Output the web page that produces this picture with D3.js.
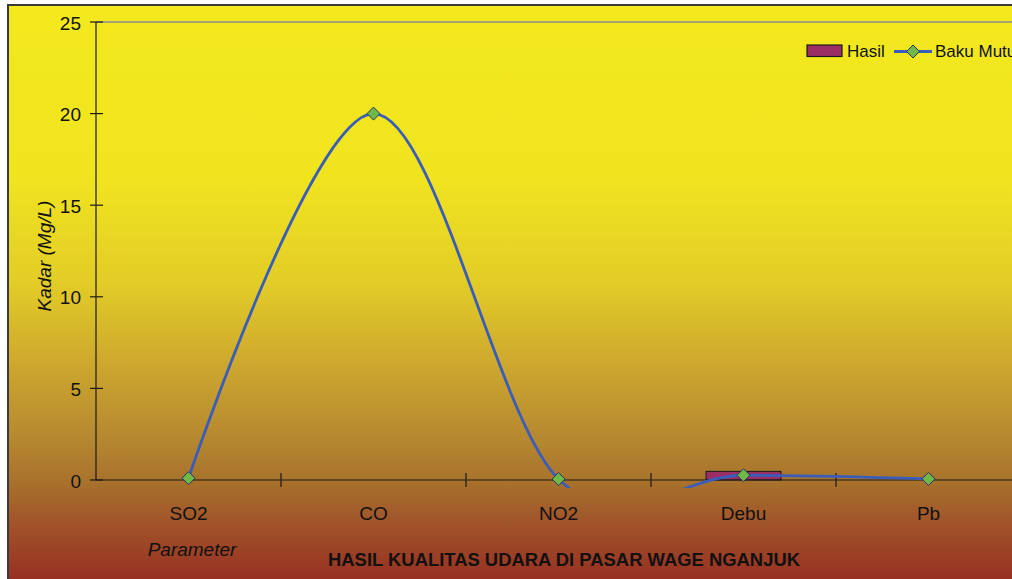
<!DOCTYPE html>
<html>
<head>
<meta charset="utf-8">
<script src="https://cdn.jsdelivr.net/npm/d3@7"></script>
<style>
  html, body { margin: 0; padding: 0; background: #ffffff; }
  svg { display: block; font-family: "Liberation Sans", Arial, sans-serif; }
</style>
</head>
<body>
<svg id="chart" width="1012" height="579"></svg>
<script>
// Parameters measured at the market
const categories = ["SO2", "CO", "NO2", "Debu", "Pb"];
// Measured concentrations (Hasil)
const hasilValues = [0, 0, 0, 0.47, 0];
// Quality standard (Baku Mutu)
const bakuMutuValues = [0.1, 20, 0.05, 0.26, 0.06];
// Y-axis ticks
const yTicks = [0, 5, 10, 15, 20, 25];

const seriesNames = ["Hasil", "Baku Mutu"];
const chartTitle = "HASIL KUALITAS UDARA DI PASAR WAGE NGANJUK";
const xTitle = "Parameter";
const yTitle = "Kadar (Mg/L)";

const svg = d3.select("#chart");

// Background gradient of the chart area
const defs = svg.append("defs");
const grad = defs.append("linearGradient")
  .attr("id", "bg").attr("gradientUnits", "userSpaceOnUse")
  .attr("x1", 0).attr("y1", 5).attr("x2", 0).attr("y2", 579);
[[0, "#f3e91d"], [0.30, "#f0e41f"], [0.48, "#e3cd27"], [0.62, "#cea92e"],
 [0.76, "#b58730"], [0.83, "#a8722c"], [0.90, "#a1552a"], [1, "#973022"]]
  .forEach(([o, c]) => grad.append("stop").attr("offset", o).attr("stop-color", c));

defs.append("clipPath").attr("id", "plotClip")
  .append("rect").attr("x", 96).attr("y", 15).attr("width", 930).attr("height", 473);

// Chart frame
svg.append("rect")
  .attr("x", 8).attr("y", 5).attr("width", 1020).attr("height", 590)
  .attr("fill", "url(#bg)").attr("stroke", "#3a3a3a").attr("stroke-width", 2);

// Scales
const plot = { left: 96, top: 22, bottom: 480 };
const x = d3.scaleBand().domain(categories).range([plot.left, plot.left + 5 * 185]);
const y = d3.scaleLinear().domain([0, 25]).range([plot.bottom, plot.top]);

// Plot area top border
svg.append("line")
  .attr("x1", plot.left).attr("x2", 1012)
  .attr("y1", y(25)).attr("y2", y(25))
  .attr("stroke", "#8c8c8c").attr("stroke-width", 1.5);

// Hasil bars
const barW = x.bandwidth() * 0.405;
svg.append("g").selectAll("rect")
  .data(categories.map((c, i) => ({ c, v: hasilValues[i] })).filter(d => d.v > 0))
  .join("rect")
  .attr("x", d => x(d.c) + x.bandwidth() / 2 - barW / 2)
  .attr("y", d => y(d.v))
  .attr("width", barW)
  .attr("height", d => y(0) - y(d.v))
  .attr("fill", "#9b2f65")
  .attr("stroke", "#1a1a1a").attr("stroke-width", 1);

// Y axis
const yAxis = svg.append("g");
yAxis.append("line")
  .attr("x1", plot.left).attr("x2", plot.left)
  .attr("y1", y(25)).attr("y2", y(0))
  .attr("stroke", "#1a1a1a").attr("stroke-width", 1.2);
yAxis.selectAll("line.tick").data(yTicks).join("line")
  .attr("class", "tick")
  .attr("x1", plot.left - 6).attr("x2", plot.left + 7)
  .attr("y1", d => y(d)).attr("y2", d => y(d))
  .attr("stroke", "#1a1a1a").attr("stroke-width", 1.2);
yAxis.selectAll("text").data(yTicks).join("text")
  .attr("x", 81).attr("y", d => y(d) + 7.5)
  .attr("text-anchor", "end")
  .attr("font-size", 19).attr("fill", "#111")
  .text(d => d);

// X axis
const xAxis = svg.append("g");
xAxis.append("line")
  .attr("x1", plot.left).attr("x2", 1012)
  .attr("y1", y(0)).attr("y2", y(0))
  .attr("stroke", "#1a1a1a").attr("stroke-width", 1.2);
xAxis.selectAll("line.tick").data(categories.slice(1)).join("line")
  .attr("class", "tick")
  .attr("x1", d => x(d)).attr("x2", d => x(d))
  .attr("y1", y(0) - 7).attr("y2", y(0) + 7)
  .attr("stroke", "#1a1a1a").attr("stroke-width", 1.2);
xAxis.selectAll("text").data(categories).join("text")
  .attr("x", d => x(d) + x.bandwidth() / 2).attr("y", 520)
  .attr("text-anchor", "middle")
  .attr("font-size", 19).attr("fill", "#111")
  .text(d => d);

// Baku Mutu smoothed line
const pts = categories.map((c, i) => [x(c) + x.bandwidth() / 2, y(bakuMutuValues[i])]);
svg.append("path")
  .attr("clip-path", "url(#plotClip)")
  .attr("d", d3.line().curve(d3.curveCardinal.tension(0))(pts))
  .attr("fill", "none").attr("stroke", "#3a5db9").attr("stroke-width", 2.8);

const diamond = (cx, cy, r) => `M${cx},${cy - r}L${cx + r},${cy}L${cx},${cy + r}L${cx - r},${cy}Z`;
svg.append("g").selectAll("path").data(pts).join("path")
  .attr("d", d => diamond(d[0], d[1], 6.5))
  .attr("fill", "#6fba46").attr("stroke", "#2b2f6e").attr("stroke-width", 1);

// Legend
const lg = svg.append("g");
lg.append("rect").attr("x", 807).attr("y", 45).attr("width", 35).attr("height", 11.5)
  .attr("fill", "#9b2f65").attr("stroke", "#1a1a1a").attr("stroke-width", 1.2);
lg.append("text").attr("x", 847).attr("y", 57).attr("font-size", 17).attr("fill", "#111")
  .text(seriesNames[0]);
lg.append("line").attr("x1", 894).attr("x2", 932).attr("y1", 51.5).attr("y2", 51.5)
  .attr("stroke", "#3a5db9").attr("stroke-width", 2.8);
lg.append("path").attr("d", diamond(913, 51.5, 6.5))
  .attr("fill", "#6fba46").attr("stroke", "#2b2f6e").attr("stroke-width", 1);
lg.append("text").attr("x", 935).attr("y", 57).attr("font-size", 17).attr("fill", "#111")
  .text(seriesNames[1]);

// Titles
svg.append("text")
  .attr("transform", "translate(51,256) rotate(-90)")
  .attr("text-anchor", "middle")
  .attr("font-size", 19).attr("font-style", "italic").attr("fill", "#111")
  .text(yTitle);
svg.append("text")
  .attr("x", 192).attr("y", 556)
  .attr("text-anchor", "middle")
  .attr("font-size", 19).attr("font-style", "italic").attr("fill", "#111")
  .text(xTitle);
svg.append("text")
  .attr("x", 328).attr("y", 566)
  .attr("font-size", 19).attr("font-weight", "bold").attr("fill", "#111")
  .attr("textLength", 472).attr("lengthAdjust", "spacingAndGlyphs")
  .text(chartTitle);
</script>
</body>
</html>
